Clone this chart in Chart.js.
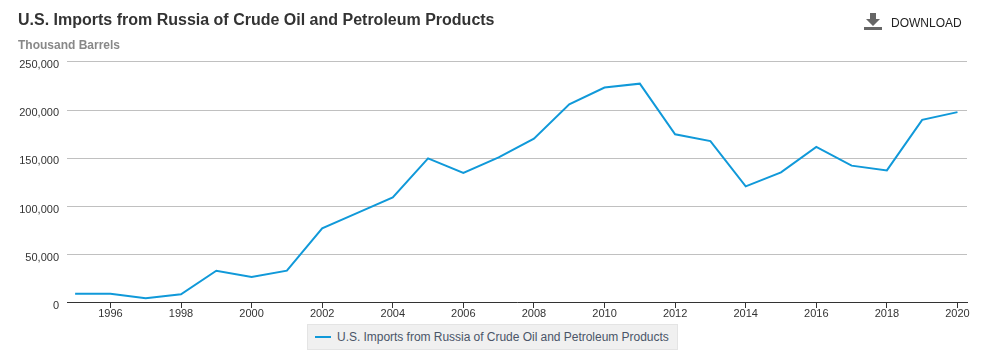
<!DOCTYPE html>
<html lang="en">
<head>
    <meta charset="UTF-8">
    <script src="https://cdn.jsdelivr.net/npm/chart.js@4/dist/chart.umd.min.js"></script>
    <title>U.S. Imports from Russia of Crude Oil and Petroleum Products</title>
    <style>
        html,body{margin:0; padding:0; background:#fff; width:984px; height:359px; overflow:hidden;}
        body{position:relative; font-family:"Liberation Sans",Arial,sans-serif;}
        #wrap{position:absolute; left:0; top:0; width:984px; height:359px;}
        #title{position:absolute; left:18px; top:11px; font-size:16px; line-height:18px; font-weight:bold; color:#333; white-space:nowrap;}
        #unit{position:absolute; left:18px; top:38px; font-size:12px; line-height:14px; font-weight:bold; color:#888; white-space:nowrap;}
        #download{position:absolute; left:891px; top:16px; font-size:12px; line-height:14px; color:#222; white-space:nowrap;}
        #icon{position:absolute; left:864px; top:13px;}
        #legend{position:absolute; left:307px; top:324px; width:369px; height:24px; background:#f0f0f0; border:1px solid #e4e4e4; font-size:12px; line-height:24px; color:#4a5568; white-space:nowrap;}
        #legend i{position:absolute; left:7px; top:11px; width:16px; height:2px; background:#1099d9;}
        #legend span{position:absolute; left:29px; top:0; letter-spacing:-0.03px;}
    </style>
</head>
<body>
    <div id="wrap"><canvas id="myChart" width="984" height="359"></canvas></div>
    <div id="title"></div>
    <div id="unit"></div>
    <svg id="icon" width="18" height="17" viewBox="0 0 18 17"><path fill="#666" d="M6 0h6v6h4l-7 7-7-7h4zM0 14h18v3H0z"/></svg>
    <div id="download">DOWNLOAD</div>
    <div id="legend"><i></i><span id="legendText"></span></div>
    <script>
        const seriesName = 'U.S. Imports from Russia of Crude Oil and Petroleum Products'
        const unitLabel = 'Thousand Barrels'
        const years = [1995,1996,1997,1998,1999,2000,2001,2002,2003,2004,2005,2006,2007,2008,2009,2010,2011,2012,2013,2014,2015,2016,2017,2018,2019,2020]
        const imports = [9500,9500,5000,9000,33500,27000,33500,77500,93500,109500,150000,135000,151000,170500,206000,223500,227500,175000,168000,121000,135500,162000,142500,137500,190000,198000]
        const xTicks = [1996,1998,2000,2002,2004,2006,2008,2010,2012,2014,2016,2018,2020]
        const yTicks = [0,50000,100000,150000,200000,250000]

        document.getElementById('title').textContent = seriesName
        document.getElementById('unit').textContent = unitLabel
        document.getElementById('legendText').textContent = seriesName

        // y labels sit a little below their grid line in the original
        const nudgeLabels = {
            id:'nudgeLabels',
            beforeDraw(chart){
                chart.scales.y.getLabelItems(chart.chartArea).forEach(function(item){
                    if(!item.nudged){
                        item.options.translation = [item.options.translation[0], item.options.translation[1]+3]
                        item.nudged = true
                    }
                })
            }
        }

        const ctx = document.getElementById('myChart').getContext('2d')
        new Chart(ctx, {
            type:'line',
            data:{
                datasets:[{
                    label:seriesName,
                    data:years.map(function(y,i){ return {x:y, y:imports[i]} }),
                    borderColor:'#1099d9',
                    borderWidth:2,
                    pointRadius:0,
                    tension:0,
                    fill:false
                }]
            },
            plugins:[nudgeLabels],
            options:{
                responsive:false,
                animation:false,
                layout:{padding:{left:0, right:17, top:61.99, bottom:0}},
                plugins:{legend:{display:false}, title:{display:false}, tooltip:{enabled:false}},
                scales:{
                    x:{
                        type:'linear',
                        min:1994.77,
                        max:2020.27,
                        afterBuildTicks(axis){ axis.ticks = xTicks.map(function(v){ return {value:v} }) },
                        afterFit(axis){ axis.height = 56.01 },
                        border:{color:'#333', width:1},
                        grid:{drawOnChartArea:false, drawTicks:true, tickLength:5, color:'#333'},
                        ticks:{
                            color:'#333',
                            font:{family:'"Liberation Sans"', size:11},
                            maxRotation:0,
                            autoSkip:false,
                            padding:-1,
                            callback(v){ return String(v) }
                        }
                    },
                    y:{
                        min:0,
                        max:250000,
                        afterBuildTicks(axis){ axis.ticks = yTicks.map(function(v){ return {value:v} }) },
                        afterFit(axis){ axis.width = 67 },
                        border:{display:false},
                        grid:{drawTicks:false, color:'#c0c0c0'},
                        ticks:{
                            color:'#333',
                            font:{family:'"Liberation Sans"', size:11},
                            padding:8,
                            callback(v){ return v.toLocaleString('en-US') }
                        }
                    }
                }
            }
        })
    </script>
</body>
</html>
